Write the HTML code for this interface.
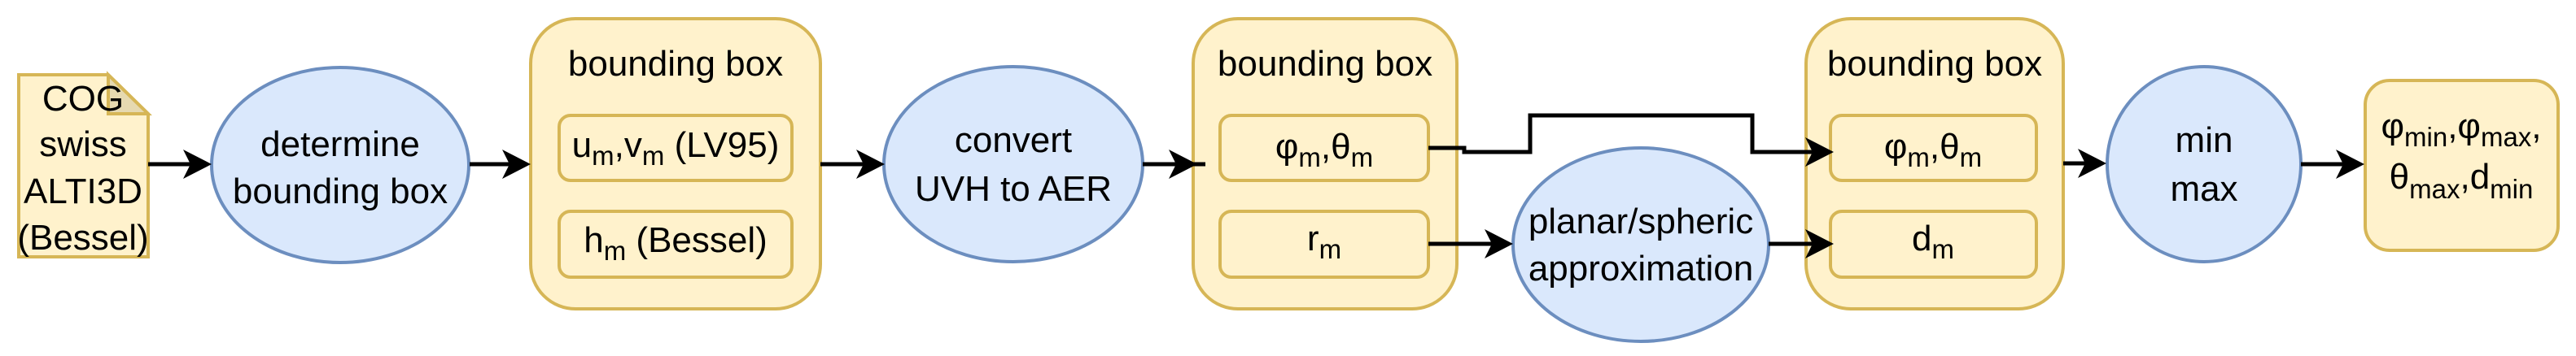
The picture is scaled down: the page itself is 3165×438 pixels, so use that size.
<!DOCTYPE html>
<html><head><meta charset="utf-8"><style>
html,body{margin:0;padding:0;background:#fff;}
svg{display:block;}
text{font-family:"Liberation Sans",Arial,sans-serif;font-size:44px;fill:#000;text-anchor:middle;}
.s{font-size:33px;}
</style></head><body>
<svg width="3165" height="438" viewBox="0 0 3165 438" xmlns="http://www.w3.org/2000/svg">
<!-- document -->
<path d="M23,92 L133,92 L182,140 L182,316 L23,316 Z" fill="#fff2cc" stroke="#d6b656" stroke-width="4"/>
<path d="M133,92 L133,140 L182,140 Z" fill="#e6d9b0" stroke="#d6b656" stroke-width="4"/>
<text x="102" y="136">COG</text>
<text x="102" y="192">swiss</text>
<text x="102" y="250">ALTI3D</text>
<text x="102" y="307">(Bessel)</text>

<!-- ellipses -->
<ellipse cx="418" cy="203" rx="158" ry="120" fill="#dae8fc" stroke="#6c8ebf" stroke-width="4"/>
<text x="418" y="192">determine</text>
<text x="418" y="250">bounding box</text>
<ellipse cx="1245" cy="202" rx="159" ry="120" fill="#dae8fc" stroke="#6c8ebf" stroke-width="4"/>
<text x="1245" y="187">convert</text>
<text x="1245" y="247">UVH to AER</text>
<ellipse cx="2016" cy="301" rx="157" ry="119" fill="#dae8fc" stroke="#6c8ebf" stroke-width="4"/>
<text x="2016" y="287">planar/spheric</text>
<text x="2016" y="345">approximation</text>
<ellipse cx="2708" cy="202" rx="119" ry="120" fill="#dae8fc" stroke="#6c8ebf" stroke-width="4"/>
<text x="2708" y="187">min</text>
<text x="2708" y="247">max</text>

<!-- containers -->
<rect x="652" y="23" width="356" height="357" rx="55" fill="#fff2cc" stroke="#d6b656" stroke-width="4"/>
<text x="830" y="93">bounding box</text>
<rect x="687" y="142" width="286" height="80" rx="14" fill="#fff2cc" stroke="#d6b656" stroke-width="4"/>
<text x="830" y="193">u<tspan class="s" dy="10">m</tspan><tspan dy="-10">,v</tspan><tspan class="s" dy="10">m</tspan><tspan dy="-10"> (LV95)</tspan></text>
<rect x="687" y="260" width="286" height="81" rx="14" fill="#fff2cc" stroke="#d6b656" stroke-width="4"/>
<text x="830" y="310">h<tspan class="s" dy="10">m</tspan><tspan dy="-10"> (Bessel)</tspan></text>

<rect x="1466" y="23" width="324" height="357" rx="55" fill="#fff2cc" stroke="#d6b656" stroke-width="4"/>
<text x="1628" y="93">bounding box</text>
<rect x="1499" y="142" width="256" height="80" rx="14" fill="#fff2cc" stroke="#d6b656" stroke-width="4"/>
<text x="1627" y="195">φ<tspan class="s" dy="10">m</tspan><tspan dy="-10">,θ</tspan><tspan class="s" dy="10">m</tspan></text>
<rect x="1499" y="260" width="256" height="81" rx="14" fill="#fff2cc" stroke="#d6b656" stroke-width="4"/>
<text x="1627" y="308">r<tspan class="s" dy="10">m</tspan></text>

<rect x="2219" y="23" width="316" height="357" rx="55" fill="#fff2cc" stroke="#d6b656" stroke-width="4"/>
<text x="2377" y="93">bounding box</text>
<rect x="2249" y="142" width="253" height="80" rx="14" fill="#fff2cc" stroke="#d6b656" stroke-width="4"/>
<text x="2375" y="195">φ<tspan class="s" dy="10">m</tspan><tspan dy="-10">,θ</tspan><tspan class="s" dy="10">m</tspan></text>
<rect x="2249" y="260" width="253" height="81" rx="14" fill="#fff2cc" stroke="#d6b656" stroke-width="4"/>
<text x="2375" y="308">d<tspan class="s" dy="10">m</tspan></text>

<!-- output -->
<rect x="2906" y="99" width="237" height="209" rx="30" fill="#fff2cc" stroke="#d6b656" stroke-width="4"/>
<text x="3024" y="170">φ<tspan class="s" dy="10">min</tspan><tspan dy="-10">,φ</tspan><tspan class="s" dy="10">max</tspan><tspan dy="-10">,</tspan></text>
<text x="3024" y="232">θ<tspan class="s" dy="12">max</tspan><tspan dy="-12">,d</tspan><tspan class="s" dy="12">min</tspan></text>

<!-- connectors -->
<g stroke="#000" stroke-width="5" fill="none">
<line x1="182" y1="202" x2="250" y2="202"/>
<line x1="577" y1="202" x2="642" y2="202"/>
<line x1="1008" y1="202" x2="1077" y2="202"/>
<line x1="1404" y1="202" x2="1481" y2="202"/>
<polyline points="1755,182 1799,182 1799,187 1880,187 1880,142 2153,142 2153,187 2243,187"/>
<line x1="1755" y1="300" x2="1849" y2="300"/>
<line x1="2173" y1="300" x2="2243" y2="300"/>
<line x1="2535" y1="201" x2="2578" y2="201"/>
<line x1="2827" y1="202" x2="2895" y2="202"/>
</g>
<g fill="#000">
<path d="M260,202 L225,184 L234,202 L225,220 Z"/>
<path d="M652,202 L617,184 L626,202 L617,220 Z"/>
<path d="M1087,202 L1052,184 L1061,202 L1052,220 Z"/>
<path d="M1471,202 L1436,184 L1445,202 L1436,220 Z"/>
<path d="M2253,187 L2218,169 L2227,187 L2218,205 Z"/>
<path d="M1859,300 L1824,282 L1833,300 L1824,318 Z"/>
<path d="M2253,300 L2218,282 L2227,300 L2218,318 Z"/>
<path d="M2588,201 L2553,183 L2562,201 L2553,219 Z"/>
<path d="M2905,202 L2870,184 L2879,202 L2870,220 Z"/>
</g>
</svg>
</body></html>
